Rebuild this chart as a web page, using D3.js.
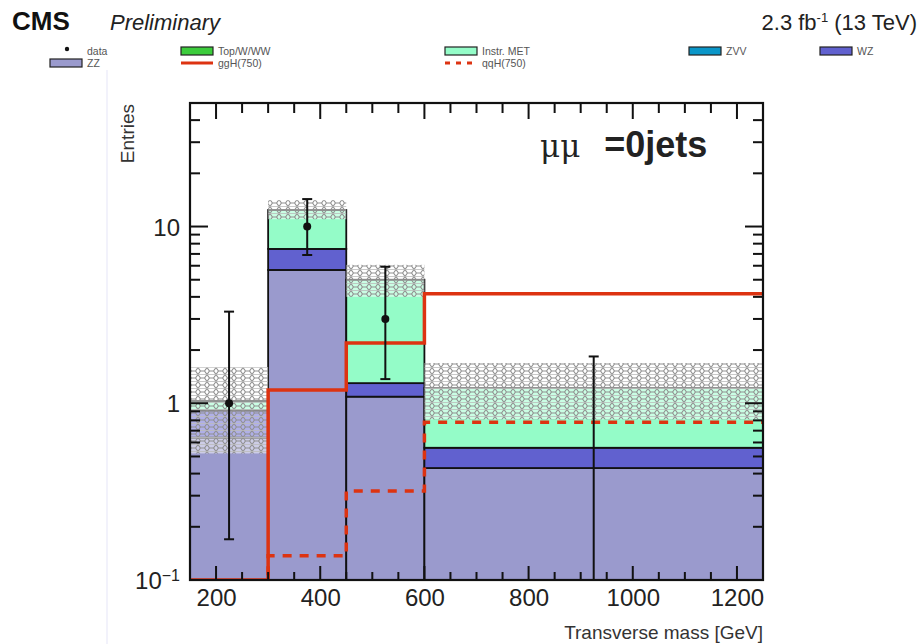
<!DOCTYPE html>
<html>
<head>
<meta charset="utf-8">
<script src="https://cdn.jsdelivr.net/npm/d3@7"></script>
<style>
  html, body { margin: 0; padding: 0; background: #fff; }
  svg { display: block; font-family: "Liberation Sans", Arial, Helvetica, sans-serif; }
</style>
</head>
<body>
<svg id="chart" width="923" height="644"></svg>
<script>
// Transverse-mass bins [GeV]
const binEdges = [150, 300, 450, 600, 1250];

// Stacked background contributions per bin (events)
const zzValues    = [0.64, 5.68, 1.09, 0.43];
const wzValues    = [0.27, 1.79, 0.21, 0.13];
const zvvValues   = [0, 0, 0, 0];
const instrMet    = [0.12, 4.93, 3.70, 0.66];
const topWWValues = [0, 0, 0, 0];

// Total background uncertainty band (low, high)
const bandLow  = [0.52, 11.0, 4.0, 0.81];
const bandHigh = [1.60, 14.1, 6.07, 1.69];

// Observed data with Poisson errors
const dataCounts = [1, 10, 3, 0];
const dataErrLow  = [0.83, 3.1, 1.63, 0];
const dataErrHigh = [2.30, 4.3, 2.92, 1.84];

// Signal hypotheses, m = 750 GeV
const ggHValues = [0.1, 1.19, 2.19, 4.16];
const qqHValues = [0.05, 0.137, 0.319, 0.78];

const xTickLabels = [200, 400, 600, 800, 1000, 1200];
const yTickLabels = [0.1, 1, 10];

const colors = {
  zz: "#9a9acd", wz: "#6161cf", zvv: "#0a96c8", instr: "#94fcc8",
  top: "#3ccc3c", signal: "#dd3311"
};

const svg = d3.select("#chart");
const pLeft = 190, pRight = 763, pTop = 103, pBottom = 580;

const x = d3.scaleLinear().domain([150, 1250]).range([pLeft, pRight]);
const y = d3.scaleLog().domain([0.1, 50]).range([pBottom, pTop]);
const yv = v => y(Math.max(v, 0.1));

// faint page edge
svg.append("line").attr("x1", 107).attr("x2", 107).attr("y1", 70).attr("y2", 644)
  .attr("stroke", "#eeeefa").attr("stroke-width", 1.5);

// hatch pattern for the uncertainty band
const defs = svg.append("defs");
const pat = defs.append("pattern").attr("id", "hatch")
  .attr("patternUnits", "userSpaceOnUse").attr("width", 9).attr("height", 7);
pat.append("rect").attr("width", 9).attr("height", 7).attr("fill", "rgba(255,255,255,0.5)");
pat.append("path").attr("d", "M0,3.5 L2.5,0 L6.5,0 L9,3.5 L6.5,7 L2.5,7 Z")
  .attr("fill", "none").attr("stroke", "#909090").attr("stroke-width", 1.1);
pat.append("path").attr("d", "M0,3.5 L9,3.5").attr("stroke", "#bbbbbb").attr("stroke-width", 0.8);

defs.append("clipPath").attr("id", "plotclip").append("rect")
  .attr("x", pLeft).attr("y", pTop).attr("width", pRight - pLeft).attr("height", pBottom - pTop);

const plot = svg.append("g").attr("clip-path", "url(#plotclip)");

const bins = d3.range(binEdges.length - 1).map(i => ({ i, lo: binEdges[i], hi: binEdges[i + 1] }));

// stack: ZZ, WZ, ZVV, Instr. MET, Top/W/WW
const stackOrder = [
  { vals: zzValues, color: colors.zz },
  { vals: wzValues, color: colors.wz },
  { vals: zvvValues, color: colors.zvv },
  { vals: instrMet, color: colors.instr },
  { vals: topWWValues, color: colors.top }
];
bins.forEach(b => {
  let base = 0;
  stackOrder.forEach(s => {
    const v = s.vals[b.i];
    if (v <= 0) return;
    const t = base + v;
    plot.append("rect")
      .attr("x", x(b.lo)).attr("width", x(b.hi) - x(b.lo))
      .attr("y", yv(t)).attr("height", yv(base) - yv(t))
      .attr("fill", s.color).attr("stroke", "#111").attr("stroke-width", 1.8);
    base = t;
  });
});

// uncertainty band
plot.selectAll("rect.band").data(bins).join("rect").attr("class", "band")
  .attr("x", b => x(b.lo)).attr("width", b => x(b.hi) - x(b.lo))
  .attr("y", b => y(bandHigh[b.i])).attr("height", b => y(bandLow[b.i]) - y(bandHigh[b.i]))
  .attr("fill", "url(#hatch)");

// signal step lines
function stepPoints(vals) {
  const pts = [];
  bins.forEach(b => { pts.push([b.lo, vals[b.i]]); pts.push([b.hi, vals[b.i]]); });
  return pts;
}
const stepLine = d3.line().x(d => x(d[0])).y(d => y(d[1]));
plot.append("path").attr("d", stepLine(stepPoints(qqHValues)))
  .attr("fill", "none").attr("stroke", colors.signal).attr("stroke-width", 3.5)
  .attr("stroke-dasharray", "9,8");
plot.append("path").attr("d", stepLine(stepPoints(ggHValues)))
  .attr("fill", "none").attr("stroke", colors.signal).attr("stroke-width", 3.5);

// data points with error bars
bins.forEach(b => {
  const cx = x((b.lo + b.hi) / 2);
  const v = dataCounts[b.i];
  const yHi = y(v + dataErrHigh[b.i]);
  const yLo = yv(v - dataErrLow[b.i]);
  plot.append("line").attr("x1", cx).attr("x2", cx).attr("y1", yHi).attr("y2", yLo)
    .attr("stroke", "#111").attr("stroke-width", 2);
  plot.append("line").attr("x1", cx - 5).attr("x2", cx + 5).attr("y1", yHi).attr("y2", yHi)
    .attr("stroke", "#111").attr("stroke-width", 2);
  if (v - dataErrLow[b.i] > 0.1) {
    plot.append("line").attr("x1", cx - 5).attr("x2", cx + 5).attr("y1", yLo).attr("y2", yLo)
      .attr("stroke", "#111").attr("stroke-width", 2);
  }
  if (v > 0) {
    plot.append("circle").attr("cx", cx).attr("cy", y(v)).attr("r", 4).attr("fill", "#111");
  }
});

// tick positions
const minorX = d3.range(150, 1251, 50).filter(v => v % 200 !== 0);
const minorY = [];
[0.1, 1, 10].forEach(d => d3.range(2, 10).forEach(k => { if (d * k <= 50) minorY.push(d * k); }));

// inward tick marks on all four sides, drawn as thin filled bars
const xTicks = minorX.map(v => ({ v, len: 8 })).concat(xTickLabels.map(v => ({ v, len: 14 })));
const yTicks = minorY.map(v => ({ v, len: 10 })).concat(yTickLabels.map(v => ({ v, len: 18 })));
const tickLayer = svg.append("g").attr("fill", "#111");
tickLayer.selectAll("rect.xb").data(xTicks).join("rect").attr("class", "xb")
  .attr("x", d => x(d.v) - 1).attr("width", 2).attr("y", d => pBottom - d.len).attr("height", d => d.len);
tickLayer.selectAll("rect.xt").data(xTicks).join("rect").attr("class", "xt")
  .attr("x", d => x(d.v) - 1).attr("width", 2).attr("y", pTop).attr("height", d => d.len + 2);
tickLayer.selectAll("rect.yl").data(yTicks).join("rect").attr("class", "yl")
  .attr("x", pLeft).attr("width", d => d.len).attr("y", d => y(d.v) - 1).attr("height", 2);
tickLayer.selectAll("rect.yr").data(yTicks).join("rect").attr("class", "yr")
  .attr("x", d => pRight - d.len).attr("width", d => d.len).attr("y", d => y(d.v) - 1).attr("height", 2);

// axis labels
const xAxis = svg.append("g").attr("transform", `translate(0,${pBottom})`)
  .call(d3.axisBottom(x).tickValues(xTickLabels).tickSize(0).tickPadding(9).tickFormat(d3.format("d")));
xAxis.select(".domain").remove();
xAxis.selectAll(".tick text").attr("font-size", 24).attr("fill", "#222")
  .attr("font-family", "Liberation Sans, Arial, sans-serif");

const yAxis = svg.append("g").attr("transform", `translate(${pLeft},0)`)
  .call(d3.axisLeft(y).tickValues(yTickLabels).tickSize(0).tickFormat(""));
yAxis.select(".domain").remove();
yAxis.selectAll(".tick").each(function(d) {
  const t = d3.select(this).append("text").attr("x", -10).attr("dy", "0.36em")
    .attr("text-anchor", "end").attr("fill", "#222").attr("font-size", 24)
    .attr("font-family", "Liberation Sans, Arial, sans-serif");
  if (d < 1) {
    t.append("tspan").text("10");
    t.append("tspan").attr("dy", "-0.5em").attr("font-size", 16).text("\u22121");
  } else {
    t.text(d3.format("d")(d));
  }
});

// frame
svg.append("rect").attr("x", pLeft).attr("y", pTop).attr("width", pRight - pLeft).attr("height", pBottom - pTop)
  .attr("fill", "none").attr("stroke", "#111").attr("stroke-width", 2.2);

// axis titles
svg.append("text").attr("x", pRight).attr("y", 639).attr("text-anchor", "end")
  .attr("font-size", 19).attr("fill", "#333").text("Transverse mass [GeV]");
svg.append("text").attr("transform", `translate(134,${pTop + 1}) rotate(-90)`)
  .attr("text-anchor", "end").attr("font-size", 19).attr("fill", "#333").text("Entries");

// category label
const cat = svg.append("text").attr("x", 540).attr("y", 157).attr("fill", "#222").attr("font-size", 36);
cat.append("tspan").attr("font-family", "DejaVu Serif, serif").attr("font-size", 31).text("\u03bc\u03bc");
cat.append("tspan").attr("dx", 24).attr("font-weight", "bold").text("=0jets");

// header
svg.append("text").attr("x", 12).attr("y", 30).attr("font-size", 26).attr("font-weight", "bold")
  .attr("fill", "#111").text("CMS");
svg.append("text").attr("x", 110).attr("y", 30).attr("font-size", 22).attr("font-style", "italic")
  .attr("fill", "#222").text("Preliminary");
const lumi = svg.append("text").attr("x", 917).attr("y", 30).attr("text-anchor", "end")
  .attr("font-size", 22).attr("fill", "#222");
lumi.append("tspan").text("2.3 fb");
lumi.append("tspan").attr("dy", -8).attr("font-size", 13).text("-1");
lumi.append("tspan").attr("dy", 8).text(" (13 TeV)");

// legend
const legend = svg.append("g").attr("font-size", 10.5).attr("fill", "#555");
const legendItems = [
  { label: "data", type: "marker", x: 50, y: 51 },
  { label: "ZZ", type: "box", color: colors.zz, x: 50, y: 63 },
  { label: "Top/W/WW", type: "box", color: colors.top, x: 181, y: 51 },
  { label: "ggH(750)", type: "line", x: 181, y: 63 },
  { label: "Instr. MET", type: "box", color: colors.instr, x: 445, y: 51 },
  { label: "qqH(750)", type: "dash", x: 445, y: 63 },
  { label: "ZVV", type: "box", color: colors.zvv, x: 689, y: 51 },
  { label: "WZ", type: "box", color: colors.wz, x: 820, y: 51 }
];
legendItems.forEach(it => {
  const w = 32;
  if (it.type === "box") {
    legend.append("rect").attr("x", it.x).attr("y", it.y - 4).attr("width", w).attr("height", 8)
      .attr("fill", it.color).attr("stroke", "#222").attr("stroke-width", 1.2);
  } else if (it.type === "marker") {
    legend.append("circle").attr("cx", it.x + w / 2 + 1).attr("cy", it.y - 2).attr("r", 2.2).attr("fill", "#111");
  } else {
    legend.append("line").attr("x1", it.x).attr("x2", it.x + w).attr("y1", it.y).attr("y2", it.y)
      .attr("stroke", colors.signal).attr("stroke-width", 3)
      .attr("stroke-dasharray", it.type === "dash" ? "5,6" : null);
  }
  legend.append("text").attr("x", it.x + w + 5).attr("y", it.y + 3.5).text(it.label);
});
</script>
</body>
</html>
